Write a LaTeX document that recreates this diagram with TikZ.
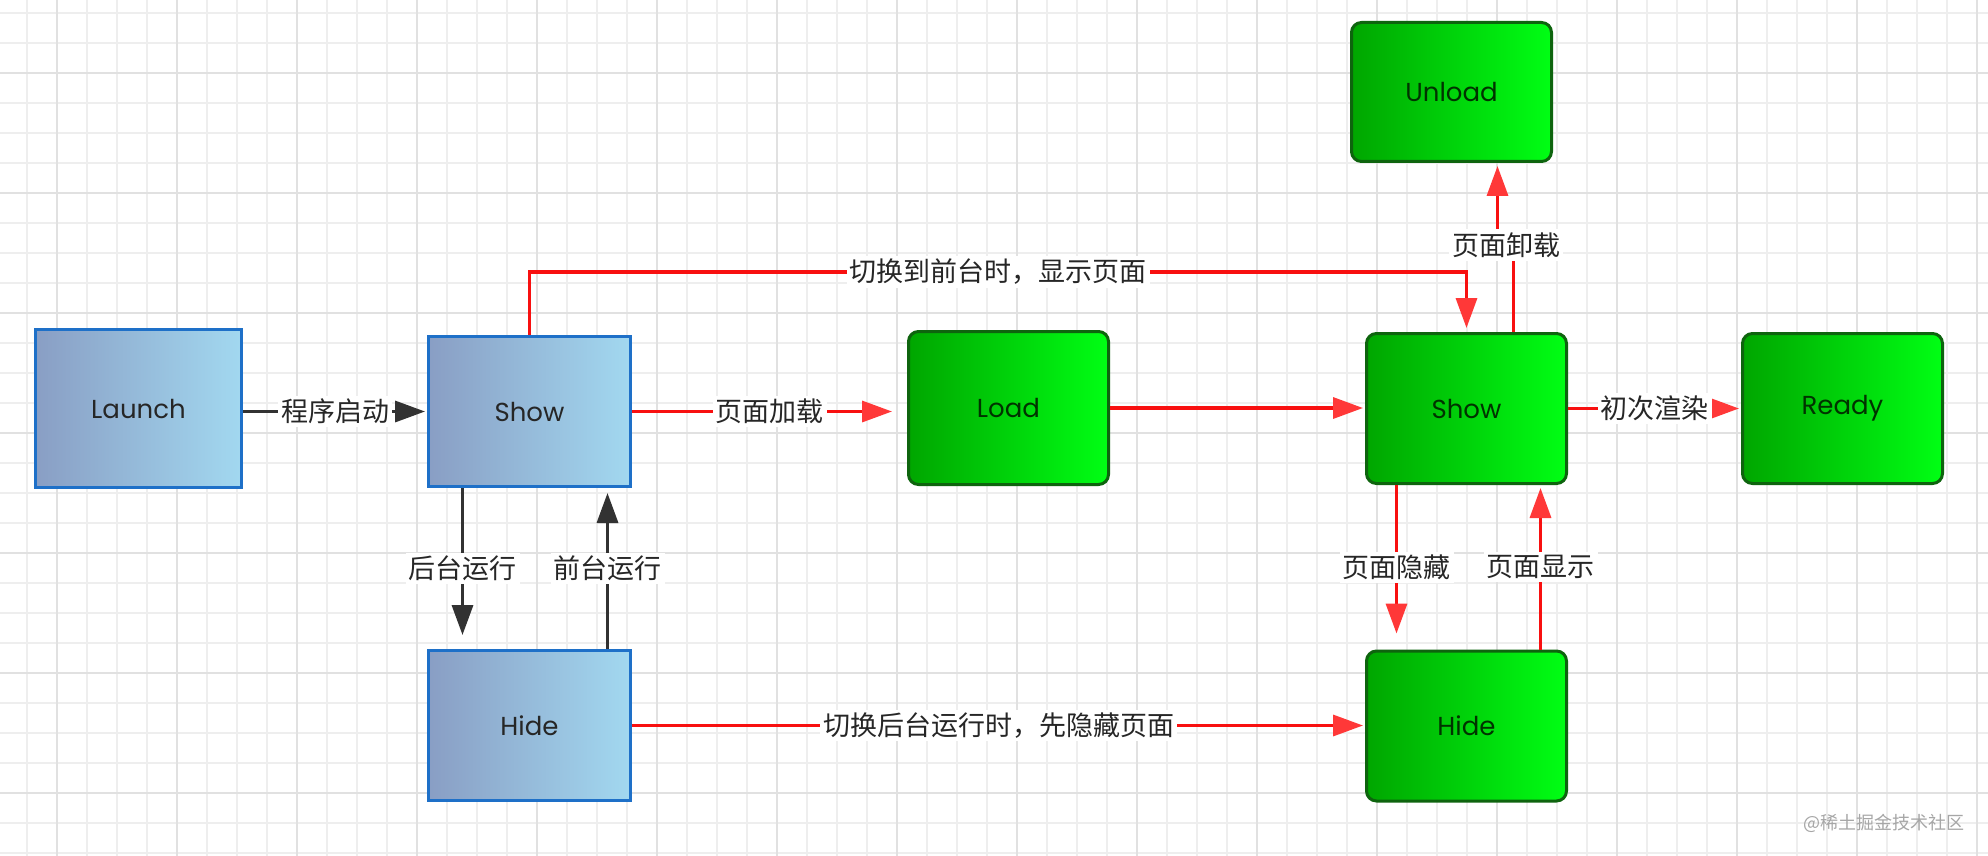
\documentclass[tikz,border=0pt]{standalone}
\usepackage{fontspec}
\setmainfont{Poppins}
\newfontfamily\cjk{Noto Sans CJK SC}
\usepackage{tikz}
\usetikzlibrary{positioning}
\usetikzlibrary{arrows.meta}
\usetikzlibrary{calc}

\definecolor{gridlight}{RGB}{238,238,238}
\definecolor{griddark}{RGB}{225,225,225}
\definecolor{blueborder}{RGB}{30,112,200}
\definecolor{blueleft}{RGB}{137,158,196}
\definecolor{blueright}{RGB}{162,216,240}
\definecolor{greenborder}{RGB}{14,100,14}
\definecolor{greenleft}{RGB}{0,166,0}
\definecolor{greenright}{RGB}{0,255,20}
\definecolor{linered}{RGB}{248,16,16}
\definecolor{headred}{RGB}{255,56,56}
\definecolor{lineblack}{RGB}{50,50,50}

\begin{document}
\begin{tikzpicture}
  [x=0.5pt,y=-0.5pt,
  bluebox/.style={rectangle,draw=blueborder,line width=1.5pt,left color=blueleft,right color=blueright,minimum width=101pt,minimum height=75pt,inner sep=0pt,font=\fontsize{13pt}{15pt}\selectfont,text=black!85},
  greenbox/.style={rectangle,rounded corners=5pt,draw=greenborder,line width=1.5pt,left color=greenleft,right color=greenright,minimum width=100pt,minimum height=75pt,inner sep=0pt,font=\fontsize{13pt}{15pt}\selectfont,text=black!80!green},
  lbl/.style={fill=white,inner sep=1.5pt,font=\cjk\fontsize{13.5pt}{15pt}\selectfont,text=black!85},
  blackarrow/.style={draw=lineblack,line width=1.7pt,-{Triangle[length=15pt,width=10.5pt]},shorten >=1pt},
  redarrow/.style={draw=linered,line width=1.7pt,-{Triangle[length=15pt,width=10.5pt,color=headred]},shorten >=1pt}]
  \useasboundingbox (0,0) rectangle (1988,856);
  \fill[white] (0,0) rectangle (1988,856);
  \draw[gridlight,line width=1pt,shift={(27,13)},step=15pt] (-27,843) grid (1961,-13);
  \draw[griddark,line width=1pt,shift={(57,73)},step=60pt] (-57,783) grid (1931,-73);

  \node[bluebox,minimum width=103pt,minimum height=79pt] (21) at (138.5,408.5) {Launch};
  \node[bluebox] (22) at (529.5,411.5) {Show};
  \node[bluebox] (32) at (529.5,725.5) {Hide};

  \node[greenbox,minimum height=76.5pt] (23) at (1008.5,408) {Load};
  \node[greenbox] (24) at (1466.5,408.5) {Show};
  \node[greenbox] (25) at (1842.5,408.5) {Ready};
  \node[greenbox,minimum height=69.5pt] (14) at (1451.5,92) {Unload};
  \node[greenbox] (34) at (1466.5,726) {Hide};

  \draw[blackarrow] (21.east |- 22) -- (22.west) node[midway,lbl] {程序启动};
  \draw[blackarrow,shorten >=7pt] ($(22.south)+(-67,0)$) -- ($(32.north)+(-67,0)$) node[midway,lbl] {后台运行};
  \draw[blackarrow,shorten >=2.5pt] ($(32.north)+(78,0)$) -- ($(22.south)+(78,0)$) node[midway,lbl] {前台运行};

  \draw[redarrow,shorten >=7.5pt] (22.east) -- (22.east -| 23.west) node[midway,lbl] {页面加载};
  \draw[redarrow] (23.east) -- (23.east -| 24.west);
  \draw[redarrow] (24.east) -- (24.east -| 25.west) node[midway,lbl] {初次渲染};
  \draw[redarrow] (32.east) -- (32.east -| 34.west) node[midway,lbl] {切换后台运行时，先隐藏页面};
  \draw[redarrow,shorten >=2pt] (22.north) |- node[pos=0.75,lbl] {切换到前台时，显示页面} ($(24.north)+(0,-60)$) -- (24.north);
  \draw[redarrow,shorten >=8pt] ($(24.south)+(-70,0)$) -- ($(34.north)+(-70,0)$) node[midway,lbl] {页面隐藏};
  \draw[redarrow,shorten >=1.5pt] ($(34.north)+(74,0)$) -- ($(24.south)+(74,0)$) node[midway,lbl] {页面显示};

  \coordinate (c14) at (1506,245);
  \draw[redarrow,shorten >=1.5pt] ($(24.north)+(47,0)$) |- (c14) -| ($(14.south)+(46,0)$);
  \node[lbl] (l14) at (c14) {页面卸载};

  \node[font=\cjk\fontsize{9pt}{10pt}\selectfont,text=black!35] (wm) at (1884,823) {@稀土掘金技术社区};
\end{tikzpicture}
\end{document}
